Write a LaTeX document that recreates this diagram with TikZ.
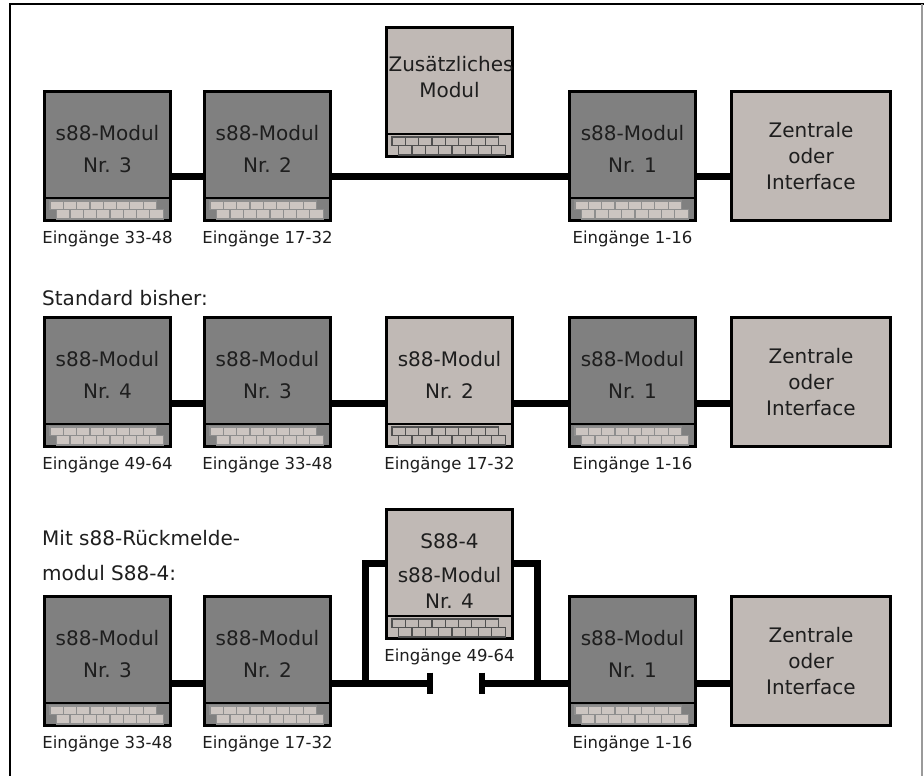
\documentclass[tikz,border=0pt]{standalone}
\usepackage{fontspec}
\setmainfont{DejaVu Sans}
\definecolor{darkmod}{HTML}{808080}
\definecolor{lightmod}{HTML}{C0B9B5}
\definecolor{brickfill}{HTML}{CCC5C1}
\definecolor{brickgrid}{HTML}{8E8E8E}
\definecolor{lightgrid}{HTML}{505050}
\definecolor{ink}{HTML}{1E1E1E}
\definecolor{framegray}{HTML}{9A9A9A}

\tikzset{
  modbox/.style={draw=black, line width=3pt, minimum width=126pt, minimum height=129pt,
    inner sep=0pt, outer sep=0pt, anchor=north west},
  darkbox/.style={modbox, fill=darkmod},
  lightbox/.style={modbox, fill=lightmod},
  hostbox/.style={draw=black, line width=3pt, fill=lightmod, minimum width=159pt,
    minimum height=129pt, inner sep=0pt, outer sep=0pt, anchor=north west,
    font=\fontsize{20}{26}\selectfont, text=ink, align=center},
  boxtext/.style={font=\fontsize{20}{24}\selectfont, text=ink, anchor=base, inner sep=0pt},
  lbl/.style={font=\fontsize{16.5}{19}\selectfont, text=ink, anchor=base, inner sep=0pt},
  heading/.style={font=\fontsize{20}{24}\selectfont, text=ink, anchor=base west, inner sep=0pt},
  bus/.style={line width=7pt, black},
  endbar/.style={line width=5.5pt, black},
}

% connector strip along the bottom of a module: two staggered rows of pins
\newcommand{\brickstrip}[3]{%
  \begin{scope}[shift={(#1.south west)}]
    \fill[#2] (5.5,-19.5) rectangle (112,-11) (12.2,-11) rectangle (118.8,-1.5);
    \draw[#3, line width=1.2pt] (5.5,-19.5) -- (112,-19.5) -- (112,-11) -- (118.8,-11)
      -- (118.8,-1.5) -- (12.2,-1.5) -- (12.2,-11) -- (5.5,-11) -- cycle;
    \draw[#3, line width=1.2pt] (12.2,-11) -- (112,-11);
    \foreach \i in {1,...,7} {
      \draw[#3, line width=1.2pt] (5.5+13.3*\i,-19.5) -- (5.5+13.3*\i,-11);
      \draw[#3, line width=1.2pt] (12.2+13.3*\i,-11) -- (12.2+13.3*\i,-1.5);
    }
    \draw[black, line width=2pt] (0,-22.5) -- (126,-22.5);
  \end{scope}
}

\begin{document}
\begin{tikzpicture}[x=1pt, y=-1pt]
  \useasboundingbox (0,0) rectangle (924,776);
  \fill[white] (0,0) rectangle (924,776);

  % outer frame
  \draw[black, line width=2pt] (9.5,776) -- (9.5,4.5) -- (924,4.5);
  \draw[framegray, line width=2pt] (921.5,4.5) -- (921.5,776);

  % bus heights
  \coordinate (busA) at (0,176);
  \coordinate (busB) at (0,403);
  \coordinate (busC) at (0,683);

  % ---------- top row ----------
  \node[darkbox] (m13) at (44.5,91.5) {};
  \node[darkbox] (m12) at (204.5,91.5) {};
  \node[lightbox] (zus) at (386.5,27.5) {};
  \node[darkbox] (m11) at (569.5,91.5) {};
  \node[hostbox] (z1) at (731.5,91.5) {Zentrale\\oder\\Interface};
  \brickstrip{m13}{brickfill}{brickgrid}
  \brickstrip{m12}{brickfill}{brickgrid}
  \brickstrip{zus}{lightmod}{lightgrid}
  \brickstrip{m11}{brickfill}{brickgrid}

  \node[boxtext] (m13a) at ([yshift=-48.5pt]m13.north) {s88-Modul};
  \node[boxtext] (m13b) at ([yshift=-80.5pt]m13.north) {Nr. 3};
  \node[boxtext] (m12a) at ([yshift=-48.5pt]m12.north) {s88-Modul};
  \node[boxtext] (m12b) at ([yshift=-80.5pt]m12.north) {Nr. 2};
  \node[boxtext] (zusa) at ([xshift=1.5pt,yshift=-44.5pt]zus.north) {Zusätzliches};
  \node[boxtext] (zusb) at ([yshift=-70.5pt]zus.north) {Modul};
  \node[boxtext] (m11a) at ([yshift=-48.5pt]m11.north) {s88-Modul};
  \node[boxtext] (m11b) at ([yshift=-80.5pt]m11.north) {Nr. 1};

  \node[lbl] (m13l) at ([yshift=-22.5pt]m13.south) {Eingänge 33-48};
  \node[lbl] (m12l) at ([yshift=-22.5pt]m12.south) {Eingänge 17-32};
  \node[lbl] (m11l) at ([yshift=-22.5pt]m11.south) {Eingänge 1-16};

  \draw[bus] (m13.east |- busA) -- (m12.west |- busA);
  \draw[bus] (m12.east |- busA) -- (m11.west |- busA);
  \draw[bus] (m11.east |- busA) -- (z1.west |- busA);

  % ---------- middle row ----------
  \node[heading] (hB) at (42,305) {Standard bisher:};
  \node[darkbox] (m24) at (44.5,317.5) {};
  \node[darkbox] (m23) at (204.5,317.5) {};
  \node[lightbox] (m22) at (386.5,317.5) {};
  \node[darkbox] (m21) at (569.5,317.5) {};
  \node[hostbox] (z2) at (731.5,317.5) {Zentrale\\oder\\Interface};
  \brickstrip{m24}{brickfill}{brickgrid}
  \brickstrip{m23}{brickfill}{brickgrid}
  \brickstrip{m22}{lightmod}{lightgrid}
  \brickstrip{m21}{brickfill}{brickgrid}

  \node[boxtext] (m24a) at ([yshift=-48.5pt]m24.north) {s88-Modul};
  \node[boxtext] (m24b) at ([yshift=-80.5pt]m24.north) {Nr. 4};
  \node[boxtext] (m23a) at ([yshift=-48.5pt]m23.north) {s88-Modul};
  \node[boxtext] (m23b) at ([yshift=-80.5pt]m23.north) {Nr. 3};
  \node[boxtext] (m22a) at ([yshift=-48.5pt]m22.north) {s88-Modul};
  \node[boxtext] (m22b) at ([yshift=-80.5pt]m22.north) {Nr. 2};
  \node[boxtext] (m21a) at ([yshift=-48.5pt]m21.north) {s88-Modul};
  \node[boxtext] (m21b) at ([yshift=-80.5pt]m21.north) {Nr. 1};

  \node[lbl] (m24l) at ([yshift=-22.5pt]m24.south) {Eingänge 49-64};
  \node[lbl] (m23l) at ([yshift=-22.5pt]m23.south) {Eingänge 33-48};
  \node[lbl] (m22l) at ([yshift=-22.5pt]m22.south) {Eingänge 17-32};
  \node[lbl] (m21l) at ([yshift=-22.5pt]m21.south) {Eingänge 1-16};

  \draw[bus] (m24.east |- busB) -- (m23.west |- busB);
  \draw[bus] (m23.east |- busB) -- (m22.west |- busB);
  \draw[bus] (m22.east |- busB) -- (m21.west |- busB);
  \draw[bus] (m21.east |- busB) -- (z2.west |- busB);

  % ---------- bottom row ----------
  \node[heading] (hC1) at (42,545) {Mit s88-Rückmelde-};
  \node[heading] (hC2) at (42,580) {modul S88-4:};
  \node[darkbox] (m33) at (44.5,596.5) {};
  \node[darkbox] (m32) at (204.5,596.5) {};
  \node[lightbox] (s884) at (386.5,509.5) {};
  \node[darkbox] (m31) at (569.5,596.5) {};
  \node[hostbox] (z3) at (731.5,596.5) {Zentrale\\oder\\Interface};
  \brickstrip{m33}{brickfill}{brickgrid}
  \brickstrip{m32}{brickfill}{brickgrid}
  \brickstrip{s884}{lightmod}{lightgrid}
  \brickstrip{m31}{brickfill}{brickgrid}

  \node[boxtext] (m33a) at ([yshift=-48.5pt]m33.north) {s88-Modul};
  \node[boxtext] (m33b) at ([yshift=-80.5pt]m33.north) {Nr. 3};
  \node[boxtext] (m32a) at ([yshift=-48.5pt]m32.north) {s88-Modul};
  \node[boxtext] (m32b) at ([yshift=-80.5pt]m32.north) {Nr. 2};
  \node[boxtext] (s884a) at ([yshift=-38.5pt]s884.north) {S88-4};
  \node[boxtext] (s884b) at ([yshift=-72.5pt]s884.north) {s88-Modul};
  \node[boxtext] (s884c) at ([yshift=-98.5pt]s884.north) {Nr. 4};
  \node[boxtext] (m31a) at ([yshift=-48.5pt]m31.north) {s88-Modul};
  \node[boxtext] (m31b) at ([yshift=-80.5pt]m31.north) {Nr. 1};

  \node[lbl] (m33l) at ([yshift=-22.5pt]m33.south) {Eingänge 33-48};
  \node[lbl] (m32l) at ([yshift=-22.5pt]m32.south) {Eingänge 17-32};
  \node[lbl] (s884l) at ([yshift=-22.5pt]s884.south) {Eingänge 49-64};
  \node[lbl] (m31l) at ([yshift=-22.5pt]m31.south) {Eingänge 1-16};

  \draw[bus] (m33.east |- busC) -- (m32.west |- busC);
  \draw[bus] (m31.east |- busC) -- (z3.west |- busC);

  % open bus with the S88-4 bridged across the gap
  \coordinate (gapL) at (430,683);
  \coordinate (gapR) at (482,683);
  \coordinate (brL) at (365,683);
  \coordinate (brR) at (537,683);
  \coordinate (brTop) at (0,563);
  \draw[bus] (m32.east |- busC) -- (gapL);
  \draw[bus] (gapR) -- (m31.west |- busC);
  \draw[endbar] ([yshift=10.5pt]gapL) -- ([yshift=-10.5pt]gapL);
  \draw[endbar] ([yshift=10.5pt]gapR) -- ([yshift=-10.5pt]gapR);
  \draw[bus, line join=miter] (brL) |- (s884.west |- brTop);
  \draw[bus, line join=miter] (brR) |- (s884.east |- brTop);
\end{tikzpicture}
\end{document}
